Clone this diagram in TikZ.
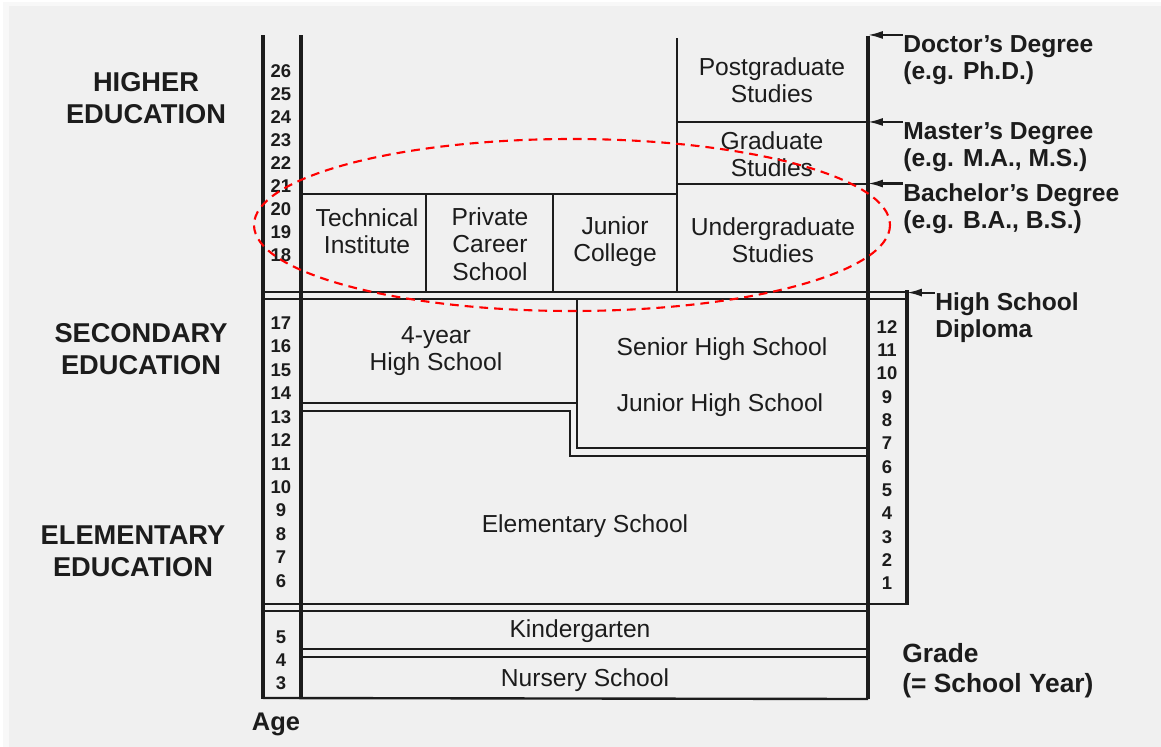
\documentclass[tikz,border=0pt]{standalone}
\usepackage{fontspec}
\setmainfont{Liberation Sans}
\usetikzlibrary{arrows.meta}

\definecolor{paper}{HTML}{F0F0F0}
\definecolor{ink}{HTML}{1C1C1C}

\begin{document}
\begin{tikzpicture}[x=0.02cm,y=-0.02cm,
    heavy/.style={draw=ink,line width=1.9pt},
    thin/.style={draw=ink,line width=1.35pt},
    boxtext/.style={text=ink,inner sep=0pt,align=center,font=\fontsize{14}{15.5}\selectfont},
    sidetext/.style={text=ink,inner sep=0pt,align=left,anchor=west,font=\bfseries\fontsize{14}{15.5}\selectfont},
    levelname/.style={text=ink,inner sep=0pt,align=center,font=\bfseries\fontsize{15.5}{18}\selectfont},
    yearnum/.style={text=ink,inner sep=0pt,font=\bfseries\fontsize{10.5}{12}\selectfont},
    degarrow/.style={draw=ink,line width=1.2pt,-{Latex[length=8.5pt,width=4.6pt]}}]
    \useasboundingbox (0,0) rectangle (1161,747);
    % paper with a soft edge
    \fill[white] (0,0) rectangle (1161,747);
    \fill[paper!50!white] (3,2) rectangle (1161,747);
    \fill[paper] (9,6) rectangle (1161,747);

    % age column and main frame
    \coordinate (rtop) at (868,36);
    \coordinate (rbot) at (868,699);
    \draw[heavy] (263,35) -- (263,699);
    \draw[heavy] (301,35) -- (301,699);
    \draw[heavy] (rtop) -- (rbot);
    \draw[thin] (263,698) -- (rbot);

    % higher education
    \draw[thin] (677,38) -- (677,292);
    \draw[thin] (677,122) -- (868,122);
    \draw[thin] (677,184) -- (868,184);
    \draw[thin] (301,194) -- (677,194);
    \draw[thin] (426,194) -- (426,292);
    \draw[thin] (553,194) -- (553,292);
    \draw[thin] (263,292) -- (907,292);
    \draw[thin] (263,299) -- (907,299);

    % grade column
    \draw[heavy] (907,290) -- (907,605);
    \draw[thin] (263,604) -- (907,604);

    % secondary education
    \draw[thin] (577,299) -- (577,448) -- (868,448);
    \draw[thin] (301,403) -- (577,403);
    \draw[thin] (301,411) -- (570,411) -- (570,456) -- (868,456);

    % elementary and pre-school
    \draw[thin] (263,611) -- (868,611);
    \draw[thin] (301,649) -- (868,649);
    \draw[thin] (301,657) -- (868,657);

    \node[boxtext] (postgrad) at (772,80) {Postgraduate\\Studies};
    \node[boxtext] (grad) at (772,154) {Graduate\\Studies};
    \node[boxtext] (undergrad) at (773,240) {Undergraduate\\Studies};
    \node[boxtext] (technical) at (367,231) {Technical\\Institute};
    \node[boxtext] (career) at (490,244) {Private\\Career\\School};
    \node[boxtext] (juniorcol) at (615,242) {Junior\\College};
    \node[boxtext] (fouryear) at (436,351) {4-year\\High School};
    \node[boxtext] (senior) at (722,349) {Senior High School};
    \node[boxtext] (juniorhigh) at (720,405) {Junior High School};
    \node[boxtext] (elementary) at (585,526) {Elementary School};
    \node[boxtext] (kinder) at (580,631) {Kindergarten};
    \node[boxtext] (nursery) at (585,680) {Nursery School};

    % ages
    \foreach \a [count=\i from 0] in {26,25,...,18}
        \node[yearnum] (age\a) at (281,71+23*\i) {\a};
    \foreach \a [count=\i from 0] in {17,16,...,6}
        \node[yearnum] (age\a) at (281,323+23.45*\i) {\a};
    \foreach \a [count=\i from 0] in {5,4,3}
        \node[yearnum] (age\a) at (281,637+23*\i) {\a};
    % grades
    \foreach \g [count=\i from 0] in {12,11,...,1}
        \node[yearnum] (grade\g) at (887,327+23.3*\i) {\g};

    \node[levelname] (higher) at (146,98) {HIGHER\\EDUCATION};
    \node[levelname] (secondary) at (141,349) {SECONDARY\\EDUCATION};
    \node[levelname] (elemlevel) at (133,551) {ELEMENTARY\\EDUCATION};
    \node[text=ink,inner sep=0pt,font=\bfseries\fontsize{14.5}{16}\selectfont] (age) at (276,724) {Age};

    % degrees
    \node[sidetext] (doctor) at (903,60) {Doctor's Degree\\(e.g. Ph.D.)};
    \node[sidetext] (master) at (903,147) {Master's Degree\\(e.g. M.A., M.S.)};
    \node[sidetext] (bachelor) at (903,209) {Bachelor's Degree\\(e.g. B.A., B.S.)};
    \node[sidetext] (diploma) at (935,318) {High School\\Diploma};
    \node[sidetext,font=\bfseries\fontsize{15}{17}\selectfont] (gradeword) at (902,671) {Grade\\(= School Year)};
    \coordinate (gradetop) at (907,290);
    \draw[degarrow] (doctor.north west) -- (doctor.north west -| rtop);
    \draw[degarrow] (master.north west) -- (master.north west -| rtop);
    \draw[degarrow] (bachelor.north west) -- (bachelor.north west -| rtop);
    \draw[degarrow] (diploma.north west) -- (diploma.north west -| gradetop);

    % the circled group
    \draw[red,line width=1.2pt,dash pattern=on 5pt off 3.4pt] (572,225) ellipse [x radius=318,y radius=86];
\end{tikzpicture}
\end{document}
